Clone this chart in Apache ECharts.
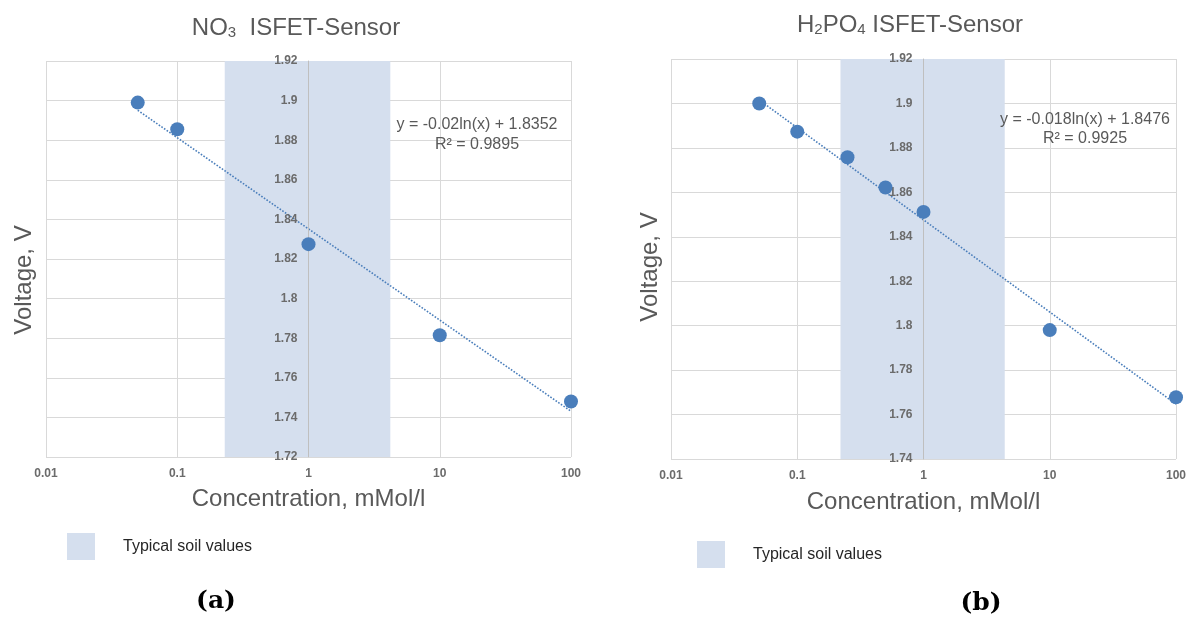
<!DOCTYPE html>
<html>
<head>
<meta charset="utf-8">
<title>ISFET sensor calibration</title>
<script src="https://cdn.jsdelivr.net/npm/echarts@6/dist/echarts.min.js"></script>
<style>
  html, body { margin: 0; padding: 0; background: #ffffff; }
  #chart { width: 1192px; height: 619px; }
</style>
</head>
<body>
<div id="chart"></div>
<script>
// ---- data: (a) NO3 sensor ----
const concA = [0.05, 0.1, 1, 10, 100];            // mMol/l
const voltA = [1.899, 1.8855, 1.8275, 1.7815, 1.748]; // V
const soilRangeA = [0.23, 4.2];                   // typical soil concentration band
const fitA = { slope: -0.02, intercept: 1.8352, r2: '0.9895' };
const yRangeA = [1.72, 1.92];

// ---- data: (b) H2PO4 sensor ----
const concB = [0.05, 0.1, 0.25, 0.5, 1, 10, 100];
const voltB = [1.9, 1.8873, 1.8758, 1.8622, 1.8512, 1.798, 1.7678];
const soilRangeB = [0.22, 4.4];
const fitB = { slope: -0.018, intercept: 1.8476, r2: '0.9925' };
const yRangeB = [1.74, 1.92];

const xRange = [0.01, 100];
const yStep = 0.02;
const bandName = 'Typical soil values';

// ---- styling ----
const FONT = 'Liberation Sans, Arial, sans-serif';
const TEXT = '#595959';
const TICK = '#6b6b6b';
const GRID_LINE = '#d9d9d9';
const AXIS_LINE = '#bfbfbf';
const POINT = '#4a7ebb';
const BAND = '#d5dfee';

const grids = [
  { left: 46, top: 61, width: 525, height: 396 },
  { left: 671, top: 59, width: 505, height: 400 }
];

function trend(fit, xs) {
  // straight line in log-x space from the fitted equation, over the measured range
  const x0 = Math.min.apply(null, xs), x1 = Math.max.apply(null, xs);
  return [[x0, fit.slope * Math.log(x0) + fit.intercept],
          [x1, fit.slope * Math.log(x1) + fit.intercept]];
}
function pairs(xs, ys) { return xs.map((x, i) => [x, ys[i]]); }
function eqText(fit) {
  const b = fit.intercept.toFixed(4);
  return 'y = ' + fit.slope + 'ln(x) + ' + b + '\nR² = ' + fit.r2;
}

function xAxisFor(gridIndex, nameGap) {
  return {
    type: 'log', logBase: 10, gridIndex: gridIndex,
    min: xRange[0], max: xRange[1],
    axisLine: { show: false }, axisTick: { show: false },
    axisLabel: { fontFamily: FONT, fontSize: 12, fontWeight: 'bold', color: TICK, margin: 11 },
    splitLine: { show: true, lineStyle: { color: GRID_LINE, width: 1 } },
    name: 'Concentration, mMol/l', nameLocation: 'middle', nameGap: nameGap,
    nameTextStyle: { fontFamily: FONT, fontSize: 24, color: TEXT }
  };
}
// grid lines behind the band
function ySplitAxis(gridIndex, range) {
  return {
    type: 'value', gridIndex: gridIndex, position: 'left',
    min: range[0], max: range[1], interval: yStep,
    axisLine: { show: false }, axisTick: { show: false }, axisLabel: { show: false },
    splitLine: { show: true, lineStyle: { color: GRID_LINE, width: 1 } }
  };
}
// vertical axis crossing at x = 1 (middle of the log range), drawn above the band
function yCrossAxis(gridIndex, range) {
  return {
    type: 'value', gridIndex: gridIndex, position: 'left',
    offset: -grids[gridIndex].width / 2, z: 5,
    min: range[0], max: range[1], interval: yStep,
    axisLine: { show: true, lineStyle: { color: AXIS_LINE, width: 1 } },
    axisTick: { show: false }, splitLine: { show: false },
    axisLabel: { fontFamily: FONT, fontSize: 12, fontWeight: 'bold', color: TICK, margin: 11 }
  };
}
function bandSeries(idx, range) {
  return {
    name: bandName, type: 'line', xAxisIndex: idx, yAxisIndex: idx * 2,
    color: BAND, data: [], z: 1,
    markArea: { silent: true, itemStyle: { color: BAND, opacity: 1 },
      data: [[{ xAxis: range[0] }, { xAxis: range[1] }]] }
  };
}
function trendSeries(idx, fit, xs) {
  return {
    type: 'line', xAxisIndex: idx, yAxisIndex: idx * 2, z: 3,
    data: trend(fit, xs), showSymbol: false, silent: true,
    lineStyle: { color: POINT, width: 1.6, type: 'dotted' }
  };
}
function pointSeries(idx, xs, ys) {
  return {
    type: 'scatter', xAxisIndex: idx, yAxisIndex: idx * 2, z: 6,
    data: pairs(xs, ys), symbolSize: 14,
    itemStyle: { color: POINT, opacity: 1 }
  };
}
function legendAt(left, top) {
  return {
    left: left, top: top, padding: 0, orient: 'vertical', data: [bandName],
    icon: 'rect', itemWidth: 28, itemHeight: 27, selectedMode: false,
    textStyle: { fontFamily: FONT, fontSize: 16, color: '#262626', padding: [0, 0, 0, 23] }
  };
}

const titleRich = {
  m: { fontFamily: FONT, fontSize: 24, fontWeight: 'normal', color: TEXT, lineHeight: 24, verticalAlign: 'top' },
  sub: { fontFamily: FONT, fontSize: 15, fontWeight: 'normal', color: TEXT, lineHeight: 15, verticalAlign: 'bottom', padding: [14, 0, 0, 0] },
  low: { fontFamily: FONT, fontSize: 15, fontWeight: 'normal', color: TEXT, lineHeight: 15, verticalAlign: 'top', padding: [9, 0, 0, 0] }
};

const option = {
  animation: false,
  backgroundColor: '#ffffff',
  title: [
    { text: '{m|NO}{sub|3}{m|  ISFET-Sensor}', left: 296, top: 28, padding: 0,
      textAlign: 'center', textVerticalAlign: 'middle',
      textStyle: { fontWeight: 'normal', rich: titleRich } },
    { text: '{m|H}{low|2}{m|PO}{low|4}{m| ISFET-Sensor}', left: 910, top: 25, padding: 0,
      textAlign: 'center', textVerticalAlign: 'middle',
      textStyle: { fontWeight: 'normal', rich: titleRich } },
    { text: '(a)', left: 216, top: 601, padding: 0, textAlign: 'center', textVerticalAlign: 'middle',
      textStyle: { fontFamily: 'DejaVu Serif, serif', fontWeight: 'bold', fontSize: 25, color: '#000' } },
    { text: '(b)', left: 981, top: 603, padding: 0, textAlign: 'center', textVerticalAlign: 'middle',
      textStyle: { fontFamily: 'DejaVu Serif, serif', fontWeight: 'bold', fontSize: 25, color: '#000' } }
  ],
  legend: [legendAt(67, 533), legendAt(697, 541)],
  grid: grids,
  xAxis: [xAxisFor(0, 30), xAxisFor(1, 31)],
  yAxis: [ySplitAxis(0, yRangeA), yCrossAxis(0, yRangeA), ySplitAxis(1, yRangeB), yCrossAxis(1, yRangeB)],
  series: [
    bandSeries(0, soilRangeA), trendSeries(0, fitA, concA), pointSeries(0, concA, voltA),
    bandSeries(1, soilRangeB), trendSeries(1, fitB, concB), pointSeries(1, concB, voltB)
  ],
  graphic: [
    { type: 'text', x: 24, y: 280, rotation: Math.PI / 2, z: 10,
      style: { text: 'Voltage, V', font: '24px ' + FONT, fill: TEXT, align: 'center', verticalAlign: 'middle' } },
    { type: 'text', x: 650, y: 267, rotation: Math.PI / 2, z: 10,
      style: { text: 'Voltage, V', font: '24px ' + FONT, fill: TEXT, align: 'center', verticalAlign: 'middle' } },
    { type: 'text', x: 477, y: 135, z: 10,
      style: { text: eqText(fitA), font: '16px ' + FONT, fill: TEXT, align: 'center', verticalAlign: 'middle', lineHeight: 20 } },
    { type: 'text', x: 1085, y: 129, z: 10,
      style: { text: eqText(fitB), font: '16px ' + FONT, fill: TEXT, align: 'center', verticalAlign: 'middle', lineHeight: 19 } }
  ]
};

const chart = echarts.init(document.getElementById('chart'), null, { renderer: 'canvas' });
chart.setOption(option);
</script>
</body>
</html>
